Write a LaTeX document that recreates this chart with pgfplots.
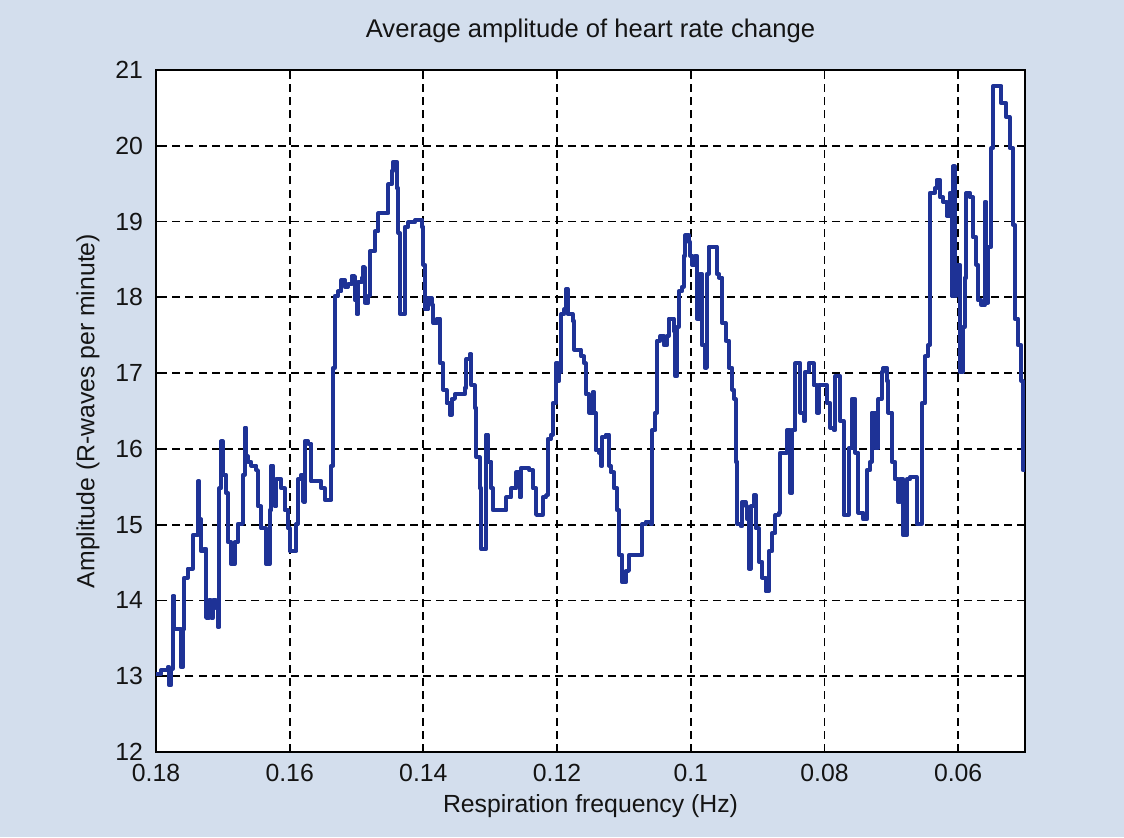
\documentclass[border=0pt]{standalone}
\usepackage{fontspec}
\setmainfont{Liberation Sans}
\usepackage{pgfplots}
\pgfplotsset{compat=1.18}
\definecolor{bgc}{RGB}{211,222,237}
\definecolor{linec}{RGB}{30,50,150}
\definecolor{txt}{RGB}{20,20,20}
\pgfplotstableread{
x y
0.18 13.03
0.17925 13.08
0.17825 13.12
0.178 12.88
0.17775 13.1
0.1775 14.06
0.17725 13.62
0.1765 13.62
0.17625 13.12
0.176 13.62
0.17575 14.30
0.17525 14.42
0.17475 14.42
0.1745 14.86
0.174 14.86
0.17375 15.57
0.1735 15.07
0.17325 14.65
0.17275 14.68
0.1725 13.77
0.172 14.0
0.17175 13.77
0.1715 14.0
0.171 13.9
0.17075 13.65
0.1705 15.48
0.17025 16.10
0.17 15.66
0.1695 15.42
0.16925 14.77
0.16875 14.48
0.16825 14.77
0.16775 15.01
0.16725 15.01
0.167 15.66
0.16675 16.28
0.1665 15.9
0.16625 15.83
0.16575 15.78
0.165 15.72
0.16475 15.24
0.16425 14.95
0.1635 14.48
0.163 15.19
0.16275 15.78
0.1625 15.3
0.16225 15.24
0.162 15.6
0.16175 15.6
0.16125 15.48
0.16075 15.19
0.16025 14.95
0.16 14.65
0.1595 14.65
0.159 15.01
0.15875 15.6
0.15825 15.66
0.158 15.3
0.15775 16.10
0.15725 16.07
0.15675 15.57
0.15575 15.57
0.15525 15.48
0.15475 15.33
0.15425 15.33
0.15375 15.78
0.1535 17.07
0.15325 18.02
0.15275 18.08
0.15225 18.23
0.15175 18.14
0.15125 18.17
0.15075 18.28
0.15025 17.96
0.15 17.78
0.14975 18.2
0.14925 18.26
0.149 18.4
0.14875 17.93
0.14825 18.02
0.148 18.61
0.14725 18.87
0.14675 19.11
0.14525 19.11
0.14525 19.49
0.14475 19.67
0.1445 19.79
0.144 19.44
0.14375 18.85
0.1435 17.78
0.143 17.78
0.14275 18.93
0.14225 18.99
0.14125 19.02
0.14025 18.93
0.14 18.43
0.13975 17.84
0.13925 17.99
0.13875 17.90
0.1385 17.66
0.138 17.72
0.13752 17.13
0.13702 16.78
0.13653 16.60
0.13603 16.45
0.13578 16.66
0.13529 16.72
0.1338 16.81
0.13355 17.19
0.13306 17.25
0.13281 16.84
0.13231 16.54
0.13206 15.89
0.13157 15.48
0.13132 14.68
0.13082 14.68
0.13058 16.19
0.13033 15.83
0.12983 15.48
0.12958 15.19
0.12785 15.19
0.1276 15.36
0.12686 15.48
0.12611 15.69
0.12562 15.36
0.12537 15.75
0.12462 15.75
0.12413 15.72
0.12363 15.48
0.12314 15.13
0.12264 15.13
0.12214 15.36
0.12165 15.39
0.1214 16.13
0.1209 16.19
0.12066 16.60
0.12016 17.13
0.11991 16.90
0.11966 17.02
0.11942 17.78
0.11892 17.84
0.11867 18.11
0.11842 17.78
0.11768 17.69
0.11743 17.31
0.11644 17.22
0.11594 17.13
0.1157 16.72
0.1152 16.48
0.1147 16.75
0.11446 16.48
0.11421 15.98
0.11371 15.95
0.11346 15.78
0.11322 16.16
0.11272 16.19
0.11222 15.78
0.11198 15.69
0.11148 15.48
0.11098 15.19
0.11074 14.60
0.11024 14.24
0.10974 14.39
0.10925 14.60
0.10751 14.60
0.10726 15.01
0.10677 15.04
0.10602 15.01
0.10578 16.25
0.10528 16.48
0.10503 17.43
0.10454 17.49
0.10404 17.37
0.10354 17.49
0.1033 17.72
0.1028 17.72
0.10255 17.55
0.1023 16.96
0.10206 17.61
0.10181 18.08
0.10131 18.14
0.10106 18.55
0.10082 18.82
0.10032 18.73
0.10007 18.55
0.09982 18.43
0.09933 18.55
0.09908 17.72
0.09858 18.31
0.09834 17.37
0.09784 17.07
0.09759 18.31
0.09734 18.67
0.09635 18.67
0.0961 18.31
0.09578 18.26
0.09528 17.66
0.09478 17.43
0.09429 17.07
0.09379 16.78
0.0935 16.66
0.09329 15.83
0.09304 15.01
0.09255 14.98
0.0923 15.30
0.0918 15.24
0.09155 15.07
0.0913 14.42
0.09106 15.24
0.09056 15.39
0.09031 14.95
0.08981 14.51
0.08932 14.30
0.08882 14.12
0.08832 14.65
0.08783 14.89
0.08733 15.13
0.08683 15.16
0.08658 15.95
0.08609 15.95
0.08559 16.25
0.08509 15.42
0.08484 16.25
0.08435 17.13
0.08385 17.13
0.0836 16.48
0.08311 16.37
0.08286 17.02
0.08236 17.13
0.08186 17.13
0.08161 16.84
0.08112 16.48
0.08087 16.84
0.08012 16.84
0.07963 16.60
0.07913 16.28
0.07863 16.25
0.07838 16.96
0.07789 16.96
0.07764 16.37
0.07714 15.13
0.07665 15.13
0.0764 16.01
0.0759 16.66
0.0754 15.95
0.07491 15.16
0.07416 15.07
0.07366 15.72
0.07317 15.83
0.07292 16.48
0.07242 16.01
0.07193 16.66
0.07143 17.02
0.07118 17.07
0.07068 16.90
0.07043 16.48
0.06994 15.83
0.06944 15.60
0.06894 15.30
0.0687 15.60
0.0682 14.86
0.0677 15.60
0.0672 15.63
0.06646 15.63
0.06621 15.01
0.06571 15.01
0.06547 16.60
0.06497 17.22
0.06447 17.37
0.06422 19.38
0.06348 19.44
0.06323 19.55
0.06273 19.32
0.06224 19.26
0.06174 19.08
0.06124 19.38
0.06099 18.02
0.06074 19.73
0.0605 18.02
0.06025 18.43
0.05975 17.02
0.05925 17.61
0.05901 18.26
0.05876 19.38
0.05826 19.32
0.05776 18.79
0.05727 18.43
0.05702 17.96
0.05652 17.90
0.05602 19.26
0.05578 17.93
0.05553 18.67
0.05503 19.97
0.05478 20.79
0.05404 20.79
0.05354 20.56
0.0528 20.38
0.0523 19.97
0.0518 18.96
0.05155 17.72
0.05106 17.37
0.05056 16.90
0.05031 15.72
0.05 15.72
}\hrdata
\begin{document}
\begin{tikzpicture}
\useasboundingbox (0,0) rectangle (562pt,418.5pt);
\fill[bgc] (0,0) rectangle (562pt,418.5pt);
\begin{axis}[
  at={(78pt,42.5pt)}, anchor=south west,
  scale only axis, width=434.5pt, height=341pt,
  x dir=reverse, xmin=0.05, xmax=0.18, ymin=12, ymax=21,
  xtick={0.06,0.08,0.1,0.12,0.14,0.16,0.18},
  xticklabels={0.06,0.08,0.1,0.12,0.14,0.16,0.18},
  ytick={12,13,14,15,16,17,18,19,20,21},
  grid=major,
  major grid style={black, line width=0.9pt, dash pattern=on 4pt off 2.6pt},
  axis line style={black, line width=1.1pt},
  tick align=inside, major tick length=4pt,
  tick style={black, line width=0.9pt},
  axis background/.style={fill=white},
  /pgf/number format/assume math mode=true,
  tick label style={font=\fontsize{12.4}{14}\selectfont, text=txt},
  xticklabel style={yshift=-2.5pt},
  yticklabel style={xshift=-3pt},
  title={Average amplitude of heart rate change},
  title style={at={(0.5,1)}, anchor=base, yshift=10.5pt, font=\fontsize{12.8}{14}\selectfont, text=txt},
  xlabel={Respiration frequency (Hz)},
  xlabel style={at={(0.5,0)}, anchor=center, yshift=-27pt, font=\fontsize{12.4}{14}\selectfont, text=txt},
  ylabel={Amplitude (R-waves per minute)},
  every axis y label/.style={at={(0,0.5)}, rotate=90, anchor=center, yshift=34pt, font=\fontsize{12.4}{14}\selectfont, text=txt},
]
\addplot[linec, line width=2pt, const plot, line join=round] table[x=x,y=y] {\hrdata};
\end{axis}
\end{tikzpicture}
\end{document}
